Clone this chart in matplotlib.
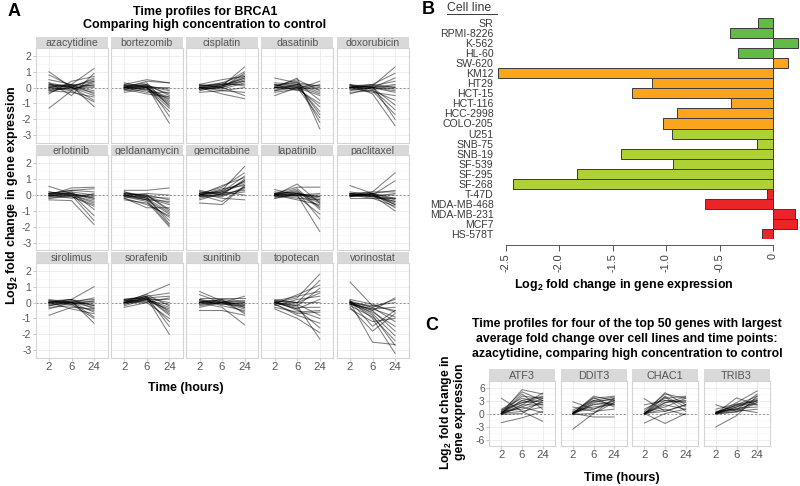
import numpy as np
import matplotlib.pyplot as plt
from matplotlib.lines import Line2D

plt.rcParams['font.family'] = ['Liberation Sans', 'DejaVu Sans']
plt.rcParams['mathtext.fontset'] = 'custom'
plt.rcParams['mathtext.rm'] = 'Liberation Sans'
plt.rcParams['mathtext.bf'] = 'Liberation Sans:bold'

# ---- panel A: BRCA1 time profiles, (2h, 6h, 24h) per cell line ----
hours = ['2', '6', '24']

azacytidine = [[1.0, 0.0, -0.8], [0.8, 0.1, -1.2], [-1.3, -0.2, 0.4], [0.5, 0.2, 1.2], [0.3, -0.5, 0.9],
               [-0.4, 0.4, 0.7], [0.2, 0.0, 0.6], [0.1, 0.1, 0.5], [-0.1, -0.1, 0.3], [0.0, 0.2, -0.4],
               [-0.2, 0.0, -0.5], [0.1, -0.1, 0.2], [0.2, 0.1, -0.2], [-0.1, 0.0, 0.0], [0.0, -0.2, -0.9],
               [-0.3, 0.1, 0.1], [0.3, 0.0, -0.3], [0.0, 0.1, 0.4], [-0.2, -0.3, -0.6], [0.1, 0.2, 0.1]]
bortezomib = [[0.0, 0.1, -2.25], [0.1, 0.2, -1.8], [0.0, -0.1, -1.5], [-0.2, 0.0, -1.3], [0.1, 0.3, -1.2],
              [0.0, 0.0, -1.0], [0.2, 0.5, 0.3], [-0.1, 0.0, -0.9], [0.0, 0.1, -0.8], [0.1, -0.2, -0.7],
              [-0.3, -0.1, -0.6], [0.0, 0.2, -0.5], [0.2, 0.1, -0.4], [0.0, -0.3, -0.3], [0.1, 0.0, 0.0],
              [-0.1, 0.1, -0.2], [0.0, 0.4, 0.3], [0.3, 0.0, -1.1], [-0.1, -0.4, -0.6], [0.1, 0.1, -0.1]]
cisplatin = [[0.0, 0.1, 1.3], [0.1, 0.2, 1.0], [-0.1, 0.0, 0.9], [0.0, 0.3, 0.8], [0.2, 0.5, 0.7],
             [-0.2, 0.1, 0.6], [0.0, 0.0, 0.5], [0.1, 0.2, 0.4], [0.0, -0.1, 0.3], [-0.1, 0.2, 0.2],
             [0.0, -0.4, -0.7], [0.2, 0.0, -0.5], [-0.3, -0.2, 0.0], [0.1, 0.3, 0.1], [0.0, 0.1, 0.6],
             [-0.1, 0.0, 0.4], [0.0, -0.2, -0.3], [0.1, 0.1, 0.7]]
dasatinib = [[0.6, 0.3, 0.1], [0.0, 0.6, -2.6], [0.1, 0.4, -2.2], [-0.5, 0.0, -1.9], [0.0, 0.2, -1.7],
             [0.2, 0.1, -1.5], [-0.2, 0.0, -1.2], [0.0, -0.1, -1.0], [0.1, 0.3, -0.8], [0.0, 0.0, -0.5],
             [0.3, 0.2, -0.3], [-0.1, 0.0, -0.1], [0.0, 0.1, 0.0], [0.2, -0.2, 0.2], [-0.3, -0.1, 0.4],
             [0.1, 0.5, -0.2], [0.0, 0.1, -0.4], [-0.2, 0.2, 0.1]]
doxorubicin = [[0.0, 0.1, 1.3], [0.1, 0.2, 0.9], [-0.1, 0.0, 0.6], [0.0, 0.1, 0.4], [0.2, 0.0, 0.2],
               [-0.2, 0.0, 0.1], [0.0, -0.1, 0.0], [0.1, 0.0, -0.2], [0.0, -0.3, -0.5], [-0.3, -0.2, -0.8],
               [0.0, 0.0, -1.1], [0.1, -0.1, -1.4], [-0.1, -0.2, -1.7], [0.0, 0.1, -2.0], [0.2, -0.4, -2.4],
               [-0.4, 0.0, -0.3], [0.0, 0.2, 0.0], [0.1, 0.1, -0.1]]
erlotinib = [[0.55, 0.1, -0.2], [0.0, 0.45, 0.5], [0.1, 0.3, 0.4], [-0.3, -0.35, -1.85], [0.0, 0.0, -1.6],
             [0.1, 0.1, -1.3], [-0.1, 0.2, -0.9], [0.0, -0.1, -0.7], [0.2, 0.0, -0.5], [0.0, 0.1, -0.3],
             [-0.2, 0.0, -0.1], [0.1, 0.2, 0.0], [0.0, -0.2, 0.1], [0.1, 0.3, 0.2], [-0.1, 0.0, -0.4],
             [0.0, 0.1, -0.2], [0.2, 0.0, 0.0], [-0.2, -0.1, -0.6]]
geldanamycin = [[0.3, 0.3, 0.45], [0.0, 0.1, 0.0], [0.2, -0.1, -0.2], [-0.1, -0.3, -0.4], [0.0, -0.2, -0.6],
                [-0.2, -0.8, -0.8], [0.1, 0.0, -1.0], [0.0, -0.3, -1.2], [-0.3, -0.5, -1.4], [0.0, -0.2, -1.6],
                [0.1, -0.1, -1.8], [-0.1, -0.4, -2.0], [0.0, 0.0, -0.9], [0.2, -0.2, -1.1], [-0.1, -0.1, -0.5],
                [0.0, -0.3, -1.9], [0.1, 0.0, -0.3], [-0.2, -0.6, -1.3]]
gemcitabine = [[0.0, 0.3, 1.8], [0.1, 0.5, 1.4], [-0.1, 0.2, 1.2], [0.0, 0.6, 1.1], [0.2, 0.0, 1.0],
               [-0.2, 0.1, 0.9], [0.0, 0.3, 0.8], [0.1, 0.2, 0.7], [-0.5, -0.6, 0.6], [0.0, -0.4, 0.5],
               [0.3, 0.0, 0.4], [-0.3, 0.1, 0.3], [0.0, 0.2, 0.0], [0.1, -0.2, -0.3], [0.0, 0.4, 0.6],
               [-0.1, 0.0, 0.2], [0.2, 0.1, 0.9], [0.0, -0.1, 0.5]]
lapatinib = [[0.35, 0.0, -0.1], [0.0, 0.7, -0.5], [0.1, 0.5, 0.5], [-0.2, 0.0, -2.3], [0.0, 0.2, -1.5],
             [0.1, -0.1, -1.2], [0.0, 0.3, -0.9], [-0.1, 0.0, -0.7], [0.2, 0.1, -0.5], [0.0, -0.2, -0.3],
             [-0.1, 0.1, -0.1], [0.0, 0.0, 0.1], [0.1, 0.2, -0.4], [0.0, -0.3, -0.6], [-0.2, 0.1, -0.2],
             [0.1, 0.0, 0.0], [0.0, 0.4, -0.8], [0.0, 0.1, -0.3]]
paclitaxel = [[0.6, 0.1, -0.2], [0.0, 0.2, 1.4], [0.1, 0.0, 0.9], [-0.1, 0.1, 0.3], [0.0, -0.1, 0.1],
              [0.1, 0.0, 0.0], [-0.2, -0.2, -0.2], [0.0, 0.1, -0.3], [0.1, -0.1, -0.4], [0.0, 0.0, -0.5],
              [-0.1, 0.1, -0.6], [0.0, -0.2, -0.7], [0.2, 0.0, -1.0], [0.0, 0.1, -0.8], [-0.1, 0.0, -0.4],
              [0.0, -0.1, -0.2], [0.1, 0.2, 0.2], [0.0, 0.0, -0.6]]
sirolimus = [[-0.8, -0.3, -0.4], [0.0, 0.2, 1.0], [0.1, 0.0, 0.3], [-0.1, 0.1, 0.2], [0.0, -0.1, 0.0],
             [0.2, 0.0, -0.1], [-0.2, 0.1, -0.2], [0.0, 0.0, -0.3], [0.1, 0.2, -0.4], [-0.3, -0.2, -0.5],
             [0.0, -0.4, -0.7], [0.1, 0.0, -0.9], [-0.1, -0.1, -1.0], [0.0, 0.1, -1.3], [-0.4, 0.0, 0.1],
             [0.0, 0.2, -0.2], [0.1, -0.1, 0.1], [-0.2, 0.0, -0.6]]
sorafenib = [[0.0, 0.55, 1.15], [0.1, 0.4, 0.6], [0.2, 0.3, 0.4], [0.0, 0.2, 0.2], [-0.1, 0.3, 0.0],
             [0.1, 0.5, -0.2], [0.0, 0.1, -0.4], [-0.2, 0.2, -0.5], [0.2, 0.4, -0.6], [0.0, 0.3, -0.8],
             [-0.3, 0.0, -1.0], [0.1, 0.2, -1.2], [0.0, 0.4, -1.5], [0.0, 0.3, -2.0], [0.1, 0.1, -0.1],
             [-0.1, 0.2, -0.3], [0.0, 0.0, 0.3], [0.2, 0.3, -0.7]]
sunitinib = [[0.7, 0.1, 0.0], [0.5, 0.0, 0.4], [0.3, 0.3, 0.3], [0.0, 0.2, 0.1], [-0.1, 0.0, -0.1],
             [0.1, -0.1, -0.2], [0.0, 0.1, -0.3], [-0.2, 0.0, -0.4], [0.2, -0.2, -0.5], [0.0, 0.0, -0.6],
             [-0.5, -0.5, -0.8], [0.0, -0.3, -1.4], [0.1, 0.1, -0.2], [-0.1, 0.0, 0.1], [0.0, 0.2, -0.7],
             [0.1, -0.1, 0.0], [-0.3, 0.0, -0.3], [0.2, 0.0, -0.1]]
topotecan = [[0.0, 0.3, 1.8], [0.1, 0.0, 1.4], [-0.1, 0.5, 1.1], [0.0, -0.2, 0.9], [0.1, 0.0, 0.6],
             [-0.2, 0.2, 0.4], [0.0, -0.4, 0.2], [0.2, 0.0, 0.0], [0.0, -0.3, -0.3], [-0.3, -0.6, -0.5],
             [0.0, -0.1, -0.8], [0.1, -0.5, -1.0], [-0.1, -0.8, -1.3], [0.0, -0.4, -1.6], [-0.4, -1.0, -1.9],
             [0.0, -0.2, -2.3], [0.1, 0.4, 0.7], [-0.1, -0.7, -0.6]]
vorinostat = [[1.3, -0.2, -0.5], [0.0, -2.5, -2.65], [-0.3, -1.8, -0.7], [0.1, -1.5, -0.5], [-0.4, -1.2, -1.0],
              [0.0, -0.5, 0.3], [0.1, -0.3, 0.2], [0.0, -0.2, 0.0], [-0.1, -0.4, -0.3], [0.2, -0.1, -0.6],
              [0.0, -0.3, -1.2], [-0.1, -0.6, -1.5], [0.0, -0.5, -1.8], [0.1, -0.7, -2.1], [-0.2, -0.9, -2.4],
              [0.0, -0.8, -2.7], [0.1, -1.0, -3.2], [-0.1, -0.4, -0.9]]

drug_names = ['azacytidine', 'bortezomib', 'cisplatin', 'dasatinib', 'doxorubicin',
              'erlotinib', 'geldanamycin', 'gemcitabine', 'lapatinib', 'paclitaxel',
              'sirolimus', 'sorafenib', 'sunitinib', 'topotecan', 'vorinostat']
drug_profiles = [azacytidine, bortezomib, cisplatin, dasatinib, doxorubicin,
                 erlotinib, geldanamycin, gemcitabine, lapatinib, paclitaxel,
                 sirolimus, sorafenib, sunitinib, topotecan, vorinostat]

# ---- panel B: BRCA1 fold change per cell line ----
cell_lines = ['SR', 'RPMI-8226', 'K-562', 'HL-60', 'SW-620', 'KM12', 'HT29', 'HCT-15', 'HCT-116',
              'HCC-2998', 'COLO-205', 'U251', 'SNB-75', 'SNB-19', 'SF-539', 'SF-295', 'SF-268',
              'T-47D', 'MDA-MB-468', 'MDA-MB-231', 'MCF7', 'HS-578T']
fold_change = [-0.14, -0.40, 0.23, -0.33, 0.14, -2.57, -1.13, -1.32, -0.39, -0.90, -1.03,
               -0.94, -0.15, -1.42, -0.93, -1.83, -2.43, -0.06, -0.64, 0.21, 0.22, -0.10]
tissue = ['leukemia'] * 4 + ['colon'] * 7 + ['cns'] * 6 + ['breast'] * 5
tissue_colors = {'leukemia': '#62bb46', 'colon': '#fba51c', 'cns': '#aed136', 'breast': '#ec2327'}

# ---- panel C: top genes for azacytidine ----
ATF3 = [[3.5, 0.5, -1.8], [-2.1, -1.0, 0.5], [0.0, 5.5, 4.5], [0.5, 5.0, 3.0], [0.0, 4.0, 3.5],
        [1.0, 3.5, 2.5], [0.0, 3.0, 4.0], [0.2, 2.5, 3.0], [-0.3, 2.0, 2.0], [0.0, 1.5, 3.5],
        [0.5, 1.0, 2.5], [0.0, 0.5, 1.5], [0.3, 3.0, 2.0], [0.0, 2.0, 4.7], [-0.2, 0.0, 3.0],
        [0.0, 4.5, 1.0], [0.8, 2.5, 3.8], [0.0, 1.5, 0.2]]
DDIT3 = [[-3.6, 0.0, 2.5], [2.7, 1.0, 3.0], [0.0, 4.0, 3.0], [0.2, 3.5, 4.0], [0.0, 3.0, 2.0],
         [-0.3, 2.5, 3.5], [0.0, 2.0, 2.8], [0.5, 1.5, 2.0], [0.0, -0.8, -0.8], [1.5, 0.5, 1.0],
         [0.0, 2.8, 3.2], [0.3, 1.0, 2.5], [0.0, 3.7, 1.5], [-0.2, 0.0, 3.5], [0.0, 2.2, 2.2],
         [0.8, 3.0, 3.8]]
CHAC1 = [[3.4, 0.5, 2.0], [-2.2, 0.0, 1.0], [0.0, -2.3, 0.0], [0.0, 4.8, 2.0], [0.5, 4.5, 3.5],
         [0.0, 4.0, 1.5], [1.0, 3.5, 4.0], [0.0, 3.0, 2.5], [-0.3, 2.5, 3.0], [0.0, 2.0, 1.0],
         [0.3, 1.5, 3.5], [0.0, 1.0, -0.3], [2.0, 3.0, 2.8], [0.0, 0.5, 2.0], [-0.2, 3.8, 0.5],
         [0.0, 2.5, 3.8]]
TRIB3 = [[-3.1, -0.5, 4.0], [2.0, 0.5, 3.0], [0.0, 3.6, 2.0], [0.0, 2.5, 5.2], [0.3, 2.0, 4.0],
         [0.0, 1.5, 3.0], [0.5, 1.0, 2.5], [0.0, 2.0, 2.0], [-0.2, 0.5, 1.0], [0.0, 1.5, 3.5],
         [0.2, 1.0, 0.2], [0.0, 0.8, 4.5], [1.0, 2.2, 2.8], [0.0, 1.2, 1.5], [0.3, 1.8, 3.2],
         [0.0, 0.3, 2.5]]
gene_names = ['ATF3', 'DDIT3', 'CHAC1', 'TRIB3']
gene_profiles = [ATF3, DDIT3, CHAC1, TRIB3]

W, H = 800, 486
fig = plt.figure(figsize=(W / 100, H / 100), dpi=100)


def px_axes(x0, y0, x1, y1):
    # pixel box (top-left origin) -> figure axes
    return fig.add_axes([x0 / W, 1 - y1 / H, (x1 - x0) / W, (y1 - y0) / H])


def ftext(x, y, s, **kw):
    fig.text(x / W, 1 - y / H, s, **kw)


def facet(x0, y0, x1, strip_h, panel_h, name, lines, ylim, yticks, show_y, show_x, strip_fs):
    st = px_axes(x0, y0, x1, y0 + strip_h)
    st.set_facecolor('#d9d9d9')
    st.set_xticks([])
    st.set_yticks([])
    for s in st.spines.values():
        s.set_visible(False)
    st.text(0.5, 0.42, name, ha='center', va='center', fontsize=strip_fs, color='#555555',
            transform=st.transAxes)

    ax = px_axes(x0, y0 + strip_h, x1, y0 + strip_h + panel_h)
    xs = np.arange(1, 4)
    for v in lines:
        ax.plot(xs, v, color='black', alpha=0.5, lw=0.75, zorder=3)
    ax.axhline(0, color='#8c8c8c', lw=0.7, ls=(0, (2, 2)), zorder=2)
    ax.set_xlim(0.4, 3.6)
    ax.set_ylim(*ylim)
    ax.set_xticks(xs)
    ax.set_yticks(yticks)
    step = yticks[1] - yticks[0]
    ax.set_yticks(np.arange(yticks[0] - step / 2, yticks[-1] + step, step), minor=True)
    ax.grid(True, which='major', color='#ebebeb', lw=0.6, zorder=0)
    ax.grid(True, which='minor', axis='y', color='#f4f4f4', lw=0.4, zorder=0)
    ax.set_axisbelow(True)
    for s in ax.spines.values():
        s.set_color('#d4d4d4')
        s.set_linewidth(0.8)
    ax.tick_params(which='minor', length=0)
    ax.tick_params(which='major', length=2, width=0.5, color='#b0b0b0', labelsize=7.5,
                   labelcolor='#555555', pad=1)
    if show_y:
        ax.set_yticklabels([f'{t:g}' for t in yticks])
    else:
        ax.tick_params(axis='y', length=0, labelleft=False)
    if show_x:
        ax.set_xticklabels(hours, fontsize=8.2)
    else:
        ax.tick_params(axis='x', length=0, labelbottom=False)
    return ax


# panel A facets
for i, (name, lines) in enumerate(zip(drug_names, drug_profiles)):
    r, c = divmod(i, 5)
    x0 = 35.5 + c * 75.25
    y0 = 37 + r * 107.5
    facet(x0, y0, x0 + 72, 11, 95, name, lines, (-3.33, 2.12), [-3, -2, -1, 0, 1, 2],
          show_y=(c == 0), show_x=(r == 2), strip_fs=7.6)

ftext(14, 11, 'A', fontsize=13, fontweight='bold', ha='center', va='center')
ftext(205, 12, 'Time profiles for BRCA1', fontsize=9, fontweight='bold', ha='center', va='center')
ftext(205, 25, 'Comparing high concentration to control', fontsize=9, fontweight='bold',
      ha='center', va='center')
ftext(12, 195, r'Log$_\mathbf{2}$ fold change in gene expression', fontsize=9, fontweight='bold',
      rotation=90, ha='center', va='center')
ftext(186, 388, 'Time (hours)', fontsize=9, fontweight='bold', ha='center', va='center')

# panel B bars
axb = px_axes(773 - 2.6 * 107, 18, 773 + 0.25 * 107, 239)
for k in ['top', 'right', 'left']:
    axb.spines[k].set_visible(False)
axb.spines['bottom'].set_position(('outward', 4))
axb.spines['bottom'].set_color('#555555')
axb.spines['bottom'].set_linewidth(0.7)
pos = np.arange(len(cell_lines))
axb.barh(pos, fold_change, height=1.0, color=[tissue_colors[t] for t in tissue],
         edgecolor='#3a3a3a', linewidth=0.7)
axb.set_xlim(-2.6, 0.25)
axb.set_ylim(len(cell_lines) - 0.5, -0.5)
axb.set_yticks(pos)
axb.set_yticklabels(cell_lines, fontsize=7.6, color='#3a3a3a')
axb.tick_params(axis='y', length=0, pad=1)
xt = [-2.5, -2.0, -1.5, -1.0, -0.5, 0]
axb.set_xticks(xt)
axb.set_xticklabels(['-2.5', '-2.0', '-1.5', '-1.0', '-0.5', '0'], rotation=90, fontsize=7.8,
                    color='#3a3a3a')
axb.tick_params(axis='x', length=4, width=0.7, color='#555555', pad=2)
axb.spines['bottom'].set_bounds(-2.5, 0)
axb.patch.set_alpha(0)

ftext(428, 10, 'B', fontsize=13, fontweight='bold', ha='center', va='center')
ftext(447, 8, 'Cell line', fontsize=8.8, color='#3a3a3a', ha='left', va='center')
fig.add_artist(Line2D([447 / W, 497 / W], [1 - 14 / H, 1 - 14 / H], color='#3a3a3a', lw=0.7))
ftext(624, 285, r'Log$_\mathbf{2}$ fold change in gene expression', fontsize=9,
      fontweight='bold', ha='center', va='center')

# panel C facets
for i, (name, lines) in enumerate(zip(gene_names, gene_profiles)):
    x0 = 489 + i * 71.5
    facet(x0, 369, x0 + 66, 12, 65, name, lines, (-6.4, 6.4), [-6, -3, 0, 3, 6],
          show_y=(i == 0), show_x=True, strip_fs=7.8)

ftext(432, 325, 'C', fontsize=13, fontweight='bold', ha='center', va='center')
ftext(627, 339, 'Time profiles for four of the top 50 genes with largest\n'
      'average fold change over cell lines and time points:\n'
      'azacytidine, comparing high concentration to control',
      fontsize=8.8, fontweight='bold', ha='center', va='center', linespacing=1.3)
ftext(452, 412, 'Log$_\\mathbf{2}$ fold change in\ngene expression', fontsize=8.8, fontweight='bold',
      rotation=90, ha='center', va='center', linespacing=1.05)
ftext(622, 478, 'Time (hours)', fontsize=9, fontweight='bold', ha='center', va='center')

fig.savefig('out.png', dpi=100)
